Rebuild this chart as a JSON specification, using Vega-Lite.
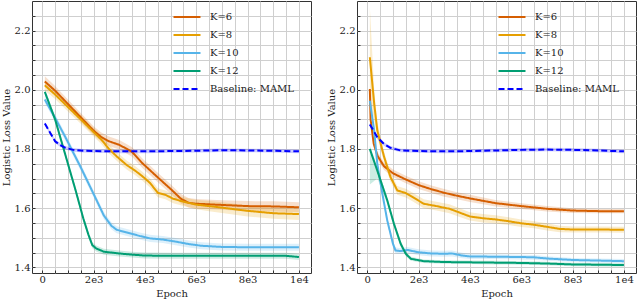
{
"$schema": "https://vega.github.io/schema/vega-lite/v6.json",
"padding": {"left": 0, "top": 0, "right": 0, "bottom": 0},
"config": {
  "font": "DejaVu Serif",
  "view": {"stroke": "#333333", "strokeWidth": 1},
  "concat": {"spacing": 13},
  "axis": {"labelFont": "DejaVu Serif", "titleFont": "DejaVu Serif", "labelFontSize": 10, "titleFontSize": 10, "titleFontWeight": "normal", "labelColor": "#222222", "titleColor": "#222222", "gridColor": "#cfcfcf", "gridWidth": 1, "tickColor": "#333333", "domain": false, "labelOverlap": false, "labelFlush": false},
  "legend": {"orient": "none", "legendX": 145, "legendY": 6, "labelFont": "DejaVu Serif", "labelFontSize": 10, "labelColor": "#222222", "symbolType": "M-1.5,0H1.5", "symbolSize": 324, "symbolStrokeWidth": 2, "labelOffset": 13, "rowPadding": 3, "padding": 0}
},
"resolve": {"legend": {"color": "independent", "strokeDash": "independent"}},
"data": {"values": [
{"p":"L","s":"K=6","e":100,"v":2.028,"lo":2.010,"hi":2.046},
{"p":"L","s":"K=6","e":500,"v":1.997,"lo":1.982,"hi":2.013},
{"p":"L","s":"K=6","e":1000,"v":1.952,"lo":1.937,"hi":1.967},
{"p":"L","s":"K=6","e":1500,"v":1.907,"lo":1.892,"hi":1.922},
{"p":"L","s":"K=6","e":2000,"v":1.862,"lo":1.847,"hi":1.877},
{"p":"L","s":"K=6","e":2300,"v":1.840,"lo":1.825,"hi":1.856},
{"p":"L","s":"K=6","e":2600,"v":1.826,"lo":1.810,"hi":1.842},
{"p":"L","s":"K=6","e":3000,"v":1.814,"lo":1.798,"hi":1.830},
{"p":"L","s":"K=6","e":3300,"v":1.800,"lo":1.784,"hi":1.816},
{"p":"L","s":"K=6","e":3500,"v":1.790,"lo":1.774,"hi":1.806},
{"p":"L","s":"K=6","e":3900,"v":1.752,"lo":1.736,"hi":1.768},
{"p":"L","s":"K=6","e":4500,"v":1.704,"lo":1.688,"hi":1.720},
{"p":"L","s":"K=6","e":5000,"v":1.665,"lo":1.649,"hi":1.681},
{"p":"L","s":"K=6","e":5400,"v":1.632,"lo":1.616,"hi":1.648},
{"p":"L","s":"K=6","e":5700,"v":1.618,"lo":1.602,"hi":1.634},
{"p":"L","s":"K=6","e":6000,"v":1.615,"lo":1.599,"hi":1.631},
{"p":"L","s":"K=6","e":7000,"v":1.611,"lo":1.595,"hi":1.627},
{"p":"L","s":"K=6","e":8000,"v":1.607,"lo":1.590,"hi":1.624},
{"p":"L","s":"K=6","e":9000,"v":1.606,"lo":1.589,"hi":1.623},
{"p":"L","s":"K=6","e":10000,"v":1.603,"lo":1.586,"hi":1.620},
{"p":"L","s":"K=8","e":100,"v":2.015,"lo":1.998,"hi":2.032},
{"p":"L","s":"K=8","e":500,"v":1.984,"lo":1.969,"hi":1.999},
{"p":"L","s":"K=8","e":1000,"v":1.942,"lo":1.927,"hi":1.957},
{"p":"L","s":"K=8","e":1500,"v":1.900,"lo":1.885,"hi":1.915},
{"p":"L","s":"K=8","e":2000,"v":1.857,"lo":1.842,"hi":1.872},
{"p":"L","s":"K=8","e":2300,"v":1.832,"lo":1.817,"hi":1.847},
{"p":"L","s":"K=8","e":2600,"v":1.800,"lo":1.785,"hi":1.815},
{"p":"L","s":"K=8","e":2900,"v":1.775,"lo":1.760,"hi":1.790},
{"p":"L","s":"K=8","e":3300,"v":1.745,"lo":1.730,"hi":1.760},
{"p":"L","s":"K=8","e":3600,"v":1.728,"lo":1.713,"hi":1.743},
{"p":"L","s":"K=8","e":3900,"v":1.708,"lo":1.693,"hi":1.723},
{"p":"L","s":"K=8","e":4200,"v":1.685,"lo":1.670,"hi":1.700},
{"p":"L","s":"K=8","e":4500,"v":1.652,"lo":1.637,"hi":1.667},
{"p":"L","s":"K=8","e":4800,"v":1.645,"lo":1.630,"hi":1.660},
{"p":"L","s":"K=8","e":5100,"v":1.632,"lo":1.617,"hi":1.647},
{"p":"L","s":"K=8","e":5500,"v":1.622,"lo":1.607,"hi":1.637},
{"p":"L","s":"K=8","e":6000,"v":1.612,"lo":1.596,"hi":1.628},
{"p":"L","s":"K=8","e":6500,"v":1.607,"lo":1.590,"hi":1.624},
{"p":"L","s":"K=8","e":7000,"v":1.602,"lo":1.584,"hi":1.620},
{"p":"L","s":"K=8","e":8000,"v":1.591,"lo":1.572,"hi":1.610},
{"p":"L","s":"K=8","e":9000,"v":1.583,"lo":1.564,"hi":1.602},
{"p":"L","s":"K=8","e":10000,"v":1.580,"lo":1.560,"hi":1.600},
{"p":"L","s":"K=10","e":100,"v":1.967,"lo":1.955,"hi":1.979},
{"p":"L","s":"K=10","e":500,"v":1.905,"lo":1.893,"hi":1.917},
{"p":"L","s":"K=10","e":900,"v":1.840,"lo":1.828,"hi":1.852},
{"p":"L","s":"K=10","e":1500,"v":1.738,"lo":1.726,"hi":1.750},
{"p":"L","s":"K=10","e":2000,"v":1.648,"lo":1.636,"hi":1.660},
{"p":"L","s":"K=10","e":2400,"v":1.575,"lo":1.563,"hi":1.587},
{"p":"L","s":"K=10","e":2700,"v":1.540,"lo":1.528,"hi":1.552},
{"p":"L","s":"K=10","e":2900,"v":1.527,"lo":1.515,"hi":1.539},
{"p":"L","s":"K=10","e":3300,"v":1.518,"lo":1.506,"hi":1.530},
{"p":"L","s":"K=10","e":3800,"v":1.506,"lo":1.494,"hi":1.518},
{"p":"L","s":"K=10","e":4200,"v":1.498,"lo":1.486,"hi":1.510},
{"p":"L","s":"K=10","e":4700,"v":1.494,"lo":1.482,"hi":1.506},
{"p":"L","s":"K=10","e":5200,"v":1.487,"lo":1.475,"hi":1.499},
{"p":"L","s":"K=10","e":5700,"v":1.479,"lo":1.467,"hi":1.491},
{"p":"L","s":"K=10","e":6200,"v":1.473,"lo":1.461,"hi":1.485},
{"p":"L","s":"K=10","e":7000,"v":1.469,"lo":1.457,"hi":1.481},
{"p":"L","s":"K=10","e":8000,"v":1.468,"lo":1.456,"hi":1.480},
{"p":"L","s":"K=10","e":9000,"v":1.468,"lo":1.456,"hi":1.480},
{"p":"L","s":"K=10","e":10000,"v":1.468,"lo":1.456,"hi":1.480},
{"p":"L","s":"K=12","e":100,"v":1.993,"lo":1.983,"hi":2.003},
{"p":"L","s":"K=12","e":500,"v":1.900,"lo":1.890,"hi":1.910},
{"p":"L","s":"K=12","e":900,"v":1.780,"lo":1.770,"hi":1.790},
{"p":"L","s":"K=12","e":1300,"v":1.660,"lo":1.650,"hi":1.670},
{"p":"L","s":"K=12","e":1600,"v":1.565,"lo":1.555,"hi":1.575},
{"p":"L","s":"K=12","e":1800,"v":1.510,"lo":1.500,"hi":1.520},
{"p":"L","s":"K=12","e":1950,"v":1.475,"lo":1.465,"hi":1.485},
{"p":"L","s":"K=12","e":2100,"v":1.464,"lo":1.454,"hi":1.474},
{"p":"L","s":"K=12","e":2400,"v":1.453,"lo":1.443,"hi":1.463},
{"p":"L","s":"K=12","e":3000,"v":1.447,"lo":1.437,"hi":1.457},
{"p":"L","s":"K=12","e":3500,"v":1.443,"lo":1.433,"hi":1.453},
{"p":"L","s":"K=12","e":4000,"v":1.440,"lo":1.430,"hi":1.450},
{"p":"L","s":"K=12","e":5000,"v":1.439,"lo":1.429,"hi":1.449},
{"p":"L","s":"K=12","e":6000,"v":1.439,"lo":1.429,"hi":1.449},
{"p":"L","s":"K=12","e":7000,"v":1.439,"lo":1.429,"hi":1.449},
{"p":"L","s":"K=12","e":8000,"v":1.439,"lo":1.429,"hi":1.449},
{"p":"L","s":"K=12","e":9000,"v":1.439,"lo":1.429,"hi":1.449},
{"p":"L","s":"K=12","e":9500,"v":1.439,"lo":1.429,"hi":1.449},
{"p":"L","s":"K=12","e":10000,"v":1.435,"lo":1.425,"hi":1.445},
{"p":"L","s":"Baseline: MAML","e":100,"v":1.886,"lo":1.880,"hi":1.892},
{"p":"L","s":"Baseline: MAML","e":300,"v":1.856,"lo":1.850,"hi":1.862},
{"p":"L","s":"Baseline: MAML","e":500,"v":1.826,"lo":1.820,"hi":1.832},
{"p":"L","s":"Baseline: MAML","e":700,"v":1.813,"lo":1.807,"hi":1.819},
{"p":"L","s":"Baseline: MAML","e":900,"v":1.804,"lo":1.798,"hi":1.810},
{"p":"L","s":"Baseline: MAML","e":1200,"v":1.797,"lo":1.791,"hi":1.803},
{"p":"L","s":"Baseline: MAML","e":1600,"v":1.794,"lo":1.788,"hi":1.800},
{"p":"L","s":"Baseline: MAML","e":2000,"v":1.793,"lo":1.787,"hi":1.799},
{"p":"L","s":"Baseline: MAML","e":3000,"v":1.792,"lo":1.786,"hi":1.798},
{"p":"L","s":"Baseline: MAML","e":4000,"v":1.792,"lo":1.786,"hi":1.798},
{"p":"L","s":"Baseline: MAML","e":5000,"v":1.793,"lo":1.787,"hi":1.799},
{"p":"L","s":"Baseline: MAML","e":6000,"v":1.794,"lo":1.788,"hi":1.800},
{"p":"L","s":"Baseline: MAML","e":7000,"v":1.796,"lo":1.790,"hi":1.802},
{"p":"L","s":"Baseline: MAML","e":8000,"v":1.795,"lo":1.789,"hi":1.801},
{"p":"L","s":"Baseline: MAML","e":9000,"v":1.794,"lo":1.788,"hi":1.800},
{"p":"L","s":"Baseline: MAML","e":10000,"v":1.792,"lo":1.786,"hi":1.798},
{"p":"R","s":"K=6","e":100,"v":2.003,"lo":1.990,"hi":2.016},
{"p":"R","s":"K=6","e":130,"v":1.900,"lo":1.885,"hi":1.915},
{"p":"R","s":"K=6","e":250,"v":1.818,"lo":1.805,"hi":1.831},
{"p":"R","s":"K=6","e":400,"v":1.777,"lo":1.764,"hi":1.790},
{"p":"R","s":"K=6","e":650,"v":1.742,"lo":1.729,"hi":1.755},
{"p":"R","s":"K=6","e":1000,"v":1.718,"lo":1.705,"hi":1.731},
{"p":"R","s":"K=6","e":1500,"v":1.697,"lo":1.684,"hi":1.710},
{"p":"R","s":"K=6","e":2000,"v":1.678,"lo":1.665,"hi":1.691},
{"p":"R","s":"K=6","e":2500,"v":1.664,"lo":1.651,"hi":1.677},
{"p":"R","s":"K=6","e":3000,"v":1.652,"lo":1.639,"hi":1.665},
{"p":"R","s":"K=6","e":3500,"v":1.642,"lo":1.630,"hi":1.654},
{"p":"R","s":"K=6","e":4000,"v":1.633,"lo":1.621,"hi":1.645},
{"p":"R","s":"K=6","e":5000,"v":1.617,"lo":1.606,"hi":1.628},
{"p":"R","s":"K=6","e":6000,"v":1.607,"lo":1.597,"hi":1.617},
{"p":"R","s":"K=6","e":7000,"v":1.598,"lo":1.589,"hi":1.607},
{"p":"R","s":"K=6","e":8000,"v":1.592,"lo":1.584,"hi":1.600},
{"p":"R","s":"K=6","e":9000,"v":1.590,"lo":1.583,"hi":1.597},
{"p":"R","s":"K=6","e":10000,"v":1.590,"lo":1.583,"hi":1.597},
{"p":"R","s":"K=8","e":100,"v":2.110,"lo":1.950,"hi":2.280},
{"p":"R","s":"K=8","e":270,"v":1.953,"lo":1.900,"hi":2.000},
{"p":"R","s":"K=8","e":390,"v":1.863,"lo":1.840,"hi":1.890},
{"p":"R","s":"K=8","e":650,"v":1.775,"lo":1.758,"hi":1.792},
{"p":"R","s":"K=8","e":900,"v":1.706,"lo":1.690,"hi":1.722},
{"p":"R","s":"K=8","e":1170,"v":1.660,"lo":1.645,"hi":1.675},
{"p":"R","s":"K=8","e":1500,"v":1.651,"lo":1.636,"hi":1.666},
{"p":"R","s":"K=8","e":1760,"v":1.638,"lo":1.623,"hi":1.653},
{"p":"R","s":"K=8","e":2200,"v":1.615,"lo":1.600,"hi":1.630},
{"p":"R","s":"K=8","e":2700,"v":1.607,"lo":1.592,"hi":1.622},
{"p":"R","s":"K=8","e":3200,"v":1.598,"lo":1.583,"hi":1.613},
{"p":"R","s":"K=8","e":3600,"v":1.585,"lo":1.570,"hi":1.600},
{"p":"R","s":"K=8","e":4000,"v":1.572,"lo":1.558,"hi":1.586},
{"p":"R","s":"K=8","e":4500,"v":1.566,"lo":1.552,"hi":1.580},
{"p":"R","s":"K=8","e":5000,"v":1.562,"lo":1.548,"hi":1.576},
{"p":"R","s":"K=8","e":5500,"v":1.556,"lo":1.543,"hi":1.569},
{"p":"R","s":"K=8","e":6000,"v":1.549,"lo":1.536,"hi":1.562},
{"p":"R","s":"K=8","e":6500,"v":1.544,"lo":1.532,"hi":1.556},
{"p":"R","s":"K=8","e":7000,"v":1.537,"lo":1.525,"hi":1.549},
{"p":"R","s":"K=8","e":7500,"v":1.530,"lo":1.519,"hi":1.541},
{"p":"R","s":"K=8","e":8000,"v":1.528,"lo":1.518,"hi":1.538},
{"p":"R","s":"K=8","e":9000,"v":1.528,"lo":1.518,"hi":1.538},
{"p":"R","s":"K=8","e":10000,"v":1.527,"lo":1.517,"hi":1.537},
{"p":"R","s":"K=10","e":100,"v":1.963,"lo":1.950,"hi":1.976},
{"p":"R","s":"K=10","e":270,"v":1.862,"lo":1.850,"hi":1.874},
{"p":"R","s":"K=10","e":390,"v":1.750,"lo":1.738,"hi":1.762},
{"p":"R","s":"K=10","e":590,"v":1.648,"lo":1.637,"hi":1.659},
{"p":"R","s":"K=10","e":780,"v":1.558,"lo":1.547,"hi":1.569},
{"p":"R","s":"K=10","e":1000,"v":1.480,"lo":1.470,"hi":1.490},
{"p":"R","s":"K=10","e":1100,"v":1.457,"lo":1.447,"hi":1.467},
{"p":"R","s":"K=10","e":1300,"v":1.455,"lo":1.445,"hi":1.465},
{"p":"R","s":"K=10","e":1560,"v":1.459,"lo":1.449,"hi":1.469},
{"p":"R","s":"K=10","e":2000,"v":1.451,"lo":1.441,"hi":1.461},
{"p":"R","s":"K=10","e":2500,"v":1.447,"lo":1.437,"hi":1.457},
{"p":"R","s":"K=10","e":3000,"v":1.446,"lo":1.436,"hi":1.456},
{"p":"R","s":"K=10","e":3300,"v":1.447,"lo":1.437,"hi":1.457},
{"p":"R","s":"K=10","e":3700,"v":1.440,"lo":1.431,"hi":1.449},
{"p":"R","s":"K=10","e":4000,"v":1.437,"lo":1.428,"hi":1.446},
{"p":"R","s":"K=10","e":5000,"v":1.436,"lo":1.428,"hi":1.444},
{"p":"R","s":"K=10","e":6000,"v":1.435,"lo":1.427,"hi":1.443},
{"p":"R","s":"K=10","e":6500,"v":1.434,"lo":1.426,"hi":1.442},
{"p":"R","s":"K=10","e":7000,"v":1.430,"lo":1.422,"hi":1.438},
{"p":"R","s":"K=10","e":8000,"v":1.425,"lo":1.418,"hi":1.432},
{"p":"R","s":"K=10","e":9000,"v":1.423,"lo":1.416,"hi":1.430},
{"p":"R","s":"K=10","e":10000,"v":1.421,"lo":1.414,"hi":1.428},
{"p":"R","s":"K=12","e":100,"v":1.800,"lo":1.680,"hi":1.812},
{"p":"R","s":"K=12","e":390,"v":1.727,"lo":1.700,"hi":1.740},
{"p":"R","s":"K=12","e":780,"v":1.626,"lo":1.615,"hi":1.637},
{"p":"R","s":"K=12","e":1040,"v":1.547,"lo":1.537,"hi":1.557},
{"p":"R","s":"K=12","e":1300,"v":1.480,"lo":1.470,"hi":1.490},
{"p":"R","s":"K=12","e":1500,"v":1.446,"lo":1.438,"hi":1.454},
{"p":"R","s":"K=12","e":1700,"v":1.429,"lo":1.422,"hi":1.436},
{"p":"R","s":"K=12","e":2200,"v":1.421,"lo":1.415,"hi":1.427},
{"p":"R","s":"K=12","e":3000,"v":1.418,"lo":1.412,"hi":1.424},
{"p":"R","s":"K=12","e":4000,"v":1.417,"lo":1.411,"hi":1.423},
{"p":"R","s":"K=12","e":5000,"v":1.416,"lo":1.410,"hi":1.422},
{"p":"R","s":"K=12","e":6000,"v":1.415,"lo":1.409,"hi":1.421},
{"p":"R","s":"K=12","e":7000,"v":1.413,"lo":1.407,"hi":1.419},
{"p":"R","s":"K=12","e":8000,"v":1.410,"lo":1.404,"hi":1.416},
{"p":"R","s":"K=12","e":9000,"v":1.409,"lo":1.403,"hi":1.415},
{"p":"R","s":"K=12","e":10000,"v":1.408,"lo":1.402,"hi":1.414},
{"p":"R","s":"Baseline: MAML","e":100,"v":1.883,"lo":1.877,"hi":1.889},
{"p":"R","s":"Baseline: MAML","e":390,"v":1.840,"lo":1.834,"hi":1.846},
{"p":"R","s":"Baseline: MAML","e":650,"v":1.817,"lo":1.811,"hi":1.823},
{"p":"R","s":"Baseline: MAML","e":900,"v":1.804,"lo":1.798,"hi":1.810},
{"p":"R","s":"Baseline: MAML","e":1300,"v":1.795,"lo":1.789,"hi":1.801},
{"p":"R","s":"Baseline: MAML","e":2000,"v":1.793,"lo":1.787,"hi":1.799},
{"p":"R","s":"Baseline: MAML","e":3000,"v":1.792,"lo":1.786,"hi":1.798},
{"p":"R","s":"Baseline: MAML","e":4000,"v":1.793,"lo":1.787,"hi":1.799},
{"p":"R","s":"Baseline: MAML","e":5000,"v":1.795,"lo":1.789,"hi":1.801},
{"p":"R","s":"Baseline: MAML","e":6000,"v":1.797,"lo":1.791,"hi":1.803},
{"p":"R","s":"Baseline: MAML","e":7000,"v":1.798,"lo":1.792,"hi":1.804},
{"p":"R","s":"Baseline: MAML","e":8000,"v":1.797,"lo":1.791,"hi":1.803},
{"p":"R","s":"Baseline: MAML","e":9000,"v":1.795,"lo":1.789,"hi":1.801},
{"p":"R","s":"Baseline: MAML","e":10000,"v":1.792,"lo":1.786,"hi":1.798}
]},
"hconcat": [
{
 "width": 279, "height": 272,
 "transform": [{"filter": "datum.p === 'L'"}],
 "encoding": {
  "x": {"field": "e", "type": "quantitative", "scale": {"domain": [-400, 10470], "nice": false, "zero": false}, "axis": {"title": "Epoch", "values": [0,500,1000,1500,2000,2500,3000,3500,4000,4500,5000,5500,6000,6500,7000,7500,8000,8500,9000,9500,10000], "labelExpr": "datum.value % 2000 === 0 ? (datum.value === 0 ? '0' : datum.value === 10000 ? '1e4' : (datum.value/1000) + 'e3') : ''", "tickSize": -3, "labelPadding": 4, "titlePadding": 4}}
 },
 "layer": [
  {"mark": {"type": "area", "opacity": 0.2},
   "encoding": {
    "y": {"field": "lo", "type": "quantitative", "scale": {"domain": [1.381, 2.3], "nice": false, "zero": false}, "axis": {"title": "Logistic Loss Value", "values": [1.4,1.45,1.5,1.55,1.6,1.65,1.7,1.75,1.8,1.85,1.9,1.95,2.0,2.05,2.1,2.15,2.2,2.25], "labelExpr": "abs(round(datum.value*100) % 20) === 0 ? format(datum.value, '.1f') : ''", "tickSize": -3, "labelPadding": 5, "titlePadding": 3}},
    "y2": {"field": "hi"},
    "fill": {"field": "s", "type": "nominal", "legend": null, "scale": {"domain": ["K=6","K=8","K=10","K=12","Baseline: MAML"], "range": ["#D55E00","#E69F00","#56B4E9","#009E73","#0000FF"]}}
   }},
  {"mark": {"type": "line", "strokeWidth": 2},
   "encoding": {
    "y": {"field": "v", "type": "quantitative", "scale": {"domain": [1.381, 2.3], "nice": false, "zero": false}, "axis": {"title": "Logistic Loss Value", "values": [1.4,1.45,1.5,1.55,1.6,1.65,1.7,1.75,1.8,1.85,1.9,1.95,2.0,2.05,2.1,2.15,2.2,2.25], "labelExpr": "abs(round(datum.value*100) % 20) === 0 ? format(datum.value, '.1f') : ''", "tickSize": -3, "labelPadding": 5, "titlePadding": 3}},
    "color": {"field": "s", "type": "nominal", "legend": {"title": null}, "scale": {"domain": ["K=6","K=8","K=10","K=12","Baseline: MAML"], "range": ["#D55E00","#E69F00","#56B4E9","#009E73","#0000FF"]}},
    "strokeDash": {"field": "s", "type": "nominal", "legend": {"title": null}, "scale": {"domain": ["K=6","K=8","K=10","K=12","Baseline: MAML"], "range": [[1,0],[1,0],[1,0],[1,0],[6,3]]}}
   }}
 ]
},
{
 "width": 279, "height": 272,
 "transform": [{"filter": "datum.p === 'R'"}],
 "encoding": {
  "x": {"field": "e", "type": "quantitative", "scale": {"domain": [-400, 10470], "nice": false, "zero": false}, "axis": {"title": "Epoch", "values": [0,500,1000,1500,2000,2500,3000,3500,4000,4500,5000,5500,6000,6500,7000,7500,8000,8500,9000,9500,10000], "labelExpr": "datum.value % 2000 === 0 ? (datum.value === 0 ? '0' : datum.value === 10000 ? '1e4' : (datum.value/1000) + 'e3') : ''", "tickSize": -3, "labelPadding": 4, "titlePadding": 4}}
 },
 "layer": [
  {"mark": {"type": "area", "opacity": 0.2},
   "encoding": {
    "y": {"field": "lo", "type": "quantitative", "scale": {"domain": [1.381, 2.3], "nice": false, "zero": false}, "axis": {"title": "Logistic Loss Value", "values": [1.4,1.45,1.5,1.55,1.6,1.65,1.7,1.75,1.8,1.85,1.9,1.95,2.0,2.05,2.1,2.15,2.2,2.25], "labelExpr": "abs(round(datum.value*100) % 20) === 0 ? format(datum.value, '.1f') : ''", "tickSize": -3, "labelPadding": 5, "titlePadding": 3}},
    "y2": {"field": "hi"},
    "fill": {"field": "s", "type": "nominal", "legend": null, "scale": {"domain": ["K=6","K=8","K=10","K=12","Baseline: MAML"], "range": ["#D55E00","#E69F00","#56B4E9","#009E73","#0000FF"]}}
   }},
  {"mark": {"type": "line", "strokeWidth": 2},
   "encoding": {
    "y": {"field": "v", "type": "quantitative", "scale": {"domain": [1.381, 2.3], "nice": false, "zero": false}, "axis": {"title": "Logistic Loss Value", "values": [1.4,1.45,1.5,1.55,1.6,1.65,1.7,1.75,1.8,1.85,1.9,1.95,2.0,2.05,2.1,2.15,2.2,2.25], "labelExpr": "abs(round(datum.value*100) % 20) === 0 ? format(datum.value, '.1f') : ''", "tickSize": -3, "labelPadding": 5, "titlePadding": 3}},
    "color": {"field": "s", "type": "nominal", "legend": {"title": null}, "scale": {"domain": ["K=6","K=8","K=10","K=12","Baseline: MAML"], "range": ["#D55E00","#E69F00","#56B4E9","#009E73","#0000FF"]}},
    "strokeDash": {"field": "s", "type": "nominal", "legend": {"title": null}, "scale": {"domain": ["K=6","K=8","K=10","K=12","Baseline: MAML"], "range": [[1,0],[1,0],[1,0],[1,0],[6,3]]}}
   }}
 ]
}
]
}
